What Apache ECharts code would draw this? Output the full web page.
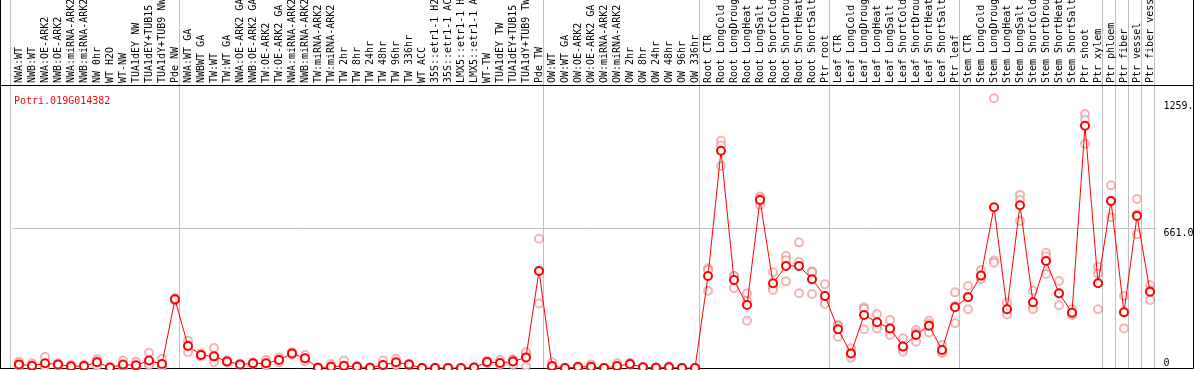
<!DOCTYPE html>
<html>
<head>
<meta charset="utf-8">
<script src="https://cdn.jsdelivr.net/npm/echarts@6/dist/echarts.min.js"></script>
<style>
html,body{margin:0;padding:0;background:#fff;}
#c{width:1194px;height:370px;}
</style>
</head>
<body>
<div id="c"></div>
<script>
const TITLE = 'Potri.019G014382';
const CATEGORIES = [
  'NWA:WT','NWB:WT','NWA:OE-ARK2','NWB:OE-ARK2','NWA:miRNA-ARK2','NWB:miRNA-ARK2','NW 0hr','WT H2O','WT-NW','TUA1dEY NW','TUA1dEY+TUB15 NW','TUA1dY+TUB9 NW','Pde NW',
  'NWA:WT GA','NWBWT GA','TW:WT','TW:WT GA','NWA:OE-ARK2 GA','NWB:OE-ARK2 GA','TW:OE-ARK2','TW:OE-ARK2 GA','NWA:miRNA-ARK2','NWB:miRNA-ARK2','TW:miRNA-ARK2','TW:miRNA-ARK2',
  'TW 2hr','TW 8hr','TW 24hr','TW 48hr','TW 96hr','TW 336hr','WT ACC','35S::etr1-1 H2O','35S::etr1-1 ACC','LMX5::etr1-1 H2O','LMX5::etr1-1 ACC','WT-TW','TUA1dEY TW','TUA1dEY+TUB15 TW','TUA1dY+TUB9 TW','Pde TW',
  'OW:WT','OW:WT GA','OW:OE-ARK2','OW:OE-ARK2 GA','OW:miRNA-ARK2','OW:miRNA-ARK2','OW 2hr','OW 8hr','OW 24hr','OW 48hr','OW 96hr','OW 336hr',
  'Root CTR','Root LongCold','Root LongDrought','Root LongHeat','Root LongSalt','Root ShortCold','Root ShortDrought','Root ShortHeat','Root ShortSalt','Ptr root',
  'Leaf CTR','Leaf LongCold','Leaf LongDrought','Leaf LongHeat','Leaf LongSalt','Leaf ShortCold','Leaf ShortDrought','Leaf ShortHeat','Leaf ShortSalt','Ptr leaf',
  'Stem CTR','Stem LongCold','Stem LongDrought','Stem LongHeat','Stem LongSalt','Stem ShortCold','Stem ShortDrought','Stem ShortHeat','Stem ShortSalt','Ptr shoot','Ptr xylem',
  'Ptr phloem','Ptr fiber','Ptr vessel','Ptr fiber vessel'
];
// group boundaries (index of first category in each group, plus the single Ptr tissues)
const GROUP_STARTS = [0, 13, 41, 53, 63, 73, 84, 85, 86, 87];

const MEAN = [
  17,11,22,17,8,9,27,2,16,13,35,19,324,
  104,61,55,31,17,22,22,38,69,46,1,6,11,6,1,14,27,16,0,0,0,0,2,28,24,31,50,458,
  9,0,5,6,0,9,19,3,1,3,0,0,
  434,1025,415,297,793,400,482,482,419,340,
  183,69,250,216,187,101,156,200,85,287,
  334,436,759,277,768,310,505,353,261,1143,400,
  788,263,718,360
];
const REP1 = [
  30,23,52,22,14,15,41,3,35,30,72,42,330,
  129,68,94,36,20,26,38,50,74,61,2,19,35,10,2,35,44,20,0,0,1,0,4,34,38,40,69,610,
  27,0,8,17,0,22,25,5,2,8,0,0,
  471,1072,434,353,809,452,529,593,455,395,
  203,93,287,255,227,140,179,223,109,357,
  387,463,1273,308,817,365,544,411,277,1199,478,
  862,340,798,392
];
const REP2 = [
  15,6,10,17,6,8,32,2,8,6,20,10,324,
  107,60,43,30,17,22,18,38,69,45,1,0,0,5,1,5,24,16,0,0,0,0,1,27,20,38,75,459,
  0,0,5,1,0,3,18,3,1,1,0,0,
  462,1050,434,315,800,380,509,500,453,323,
  198,65,280,206,178,86,165,209,74,293,
  338,426,507,270,793,288,527,352,256,1172,445,
  791,262,725,367
];
const REP3 = [
  6,5,4,12,4,4,8,1,5,3,13,5,318,
  76,55,28,27,14,18,10,26,64,32,0,0,0,3,0,2,13,12,0,0,0,0,0,23,14,14,6,305,
  0,0,2,0,0,2,14,1,0,0,0,0,
  365,954,376,223,770,368,409,353,349,302,
  148,49,183,187,156,77,124,168,72,211,
  277,419,497,253,694,277,444,296,250,1058,277,
  711,187,631,321
];
const Y_MAX = 1331;
const GRID_VALUE = 661;
const TICK_VALUES_UPPER = [661, 1259];
const TICK_TEXT = {0: '0', 661: '661.0', 1259: '1259.'};

const FONT = 'DejaVu Sans Mono';
const reps = [];
[REP1, REP2, REP3].forEach(arr => arr.forEach((v, i) => reps.push([i, v])));

const chart = echarts.init(document.getElementById('c'), null, {renderer: 'canvas'});
const hidden = {show: false};
chart.setOption({
  animation: false,
  title: {
    text: TITLE, left: 9, top: 91,
    textStyle: {color: '#ff0000', fontSize: 10, fontWeight: 'normal', fontFamily: FONT}
  },
  grid: [
    {left: 0.5, right: 1, top: 0, bottom: 2, outerBoundsMode: 'none', containLabel: false},          // frame
    {left: 0.5, right: 1, top: 85.5, bottom: 2, outerBoundsMode: 'none', containLabel: false},       // header separator
    {left: 10, right: 40, top: 0, bottom: 2, outerBoundsMode: 'none', containLabel: false},          // group lines
    {left: 12.5, right: 37.5, top: 86, bottom: 2, outerBoundsMode: 'none', containLabel: false}      // data
  ],
  xAxis: [
    {gridIndex: 0, type: 'value', position: 'bottom', axisLine: {show: true, onZero: false, lineStyle: {color: '#000', width: 1}}, axisTick: hidden, axisLabel: hidden, splitLine: hidden},
    {gridIndex: 1, type: 'value', position: 'top', axisLine: {show: true, onZero: false, lineStyle: {color: '#000', width: 1}}, axisTick: hidden, axisLabel: hidden, splitLine: hidden},
    {gridIndex: 2, type: 'category', data: CATEGORIES, axisLine: hidden, axisTick: hidden, axisLabel: hidden,
      splitLine: {show: true, interval: (idx) => GROUP_STARTS.indexOf(idx) >= 0, lineStyle: {color: '#c0c0c0', width: 1}}},
    {gridIndex: 3, type: 'category', data: CATEGORIES, position: 'top', boundaryGap: true,
      axisLine: hidden, axisTick: hidden, splitLine: hidden,
      axisLabel: {interval: 0, rotate: 90, margin: 3, color: '#000', fontSize: 10, fontFamily: FONT, hideOverlap: false}}
  ],
  yAxis: [
    {gridIndex: 0, type: 'value', position: 'left', axisLine: {show: true, onZero: false, lineStyle: {color: '#000'}}, axisTick: hidden, axisLabel: hidden, splitLine: hidden},
    {gridIndex: 0, type: 'value', position: 'right', axisLine: {show: true, onZero: false, lineStyle: {color: '#000'}}, axisTick: hidden, axisLabel: hidden, splitLine: hidden},
    {gridIndex: 1, type: 'value', show: false},
    {gridIndex: 2, type: 'value', show: false},
    {gridIndex: 3, type: 'value', min: 0, max: Y_MAX, position: 'right',
      axisLine: hidden, axisTick: hidden, splitLine: hidden,
      axisLabel: {customValues: TICK_VALUES_UPPER, verticalAlign: 'top', margin: 7, color: '#000', fontSize: 10, fontFamily: FONT,
        formatter: v => TICK_TEXT[v]}},
    {gridIndex: 3, type: 'value', min: 0, max: Y_MAX, position: 'right',
      axisLine: hidden, axisTick: hidden, splitLine: hidden,
      axisLabel: {customValues: [0], verticalAlign: 'bottom', margin: 7, color: '#000', fontSize: 10, fontFamily: FONT,
        formatter: v => TICK_TEXT[v]}}
  ],
  series: [
    {type: 'scatter', xAxisIndex: 3, yAxisIndex: 4, data: reps, symbol: 'emptyCircle', symbolSize: 8,
      itemStyle: {color: 'rgba(236,110,110,0.65)', borderWidth: 1.5}, z: 3, silent: true},
    {type: 'line', xAxisIndex: 3, yAxisIndex: 4, data: MEAN, symbol: 'emptyCircle', symbolSize: 8, showAllSymbol: true,
      lineStyle: {color: '#ff0000', width: 1}, itemStyle: {color: '#ff0000', borderWidth: 1.6}, z: 4, silent: true,
      markLine: {silent: true, symbol: 'none', label: {show: false}, lineStyle: {color: '#c0c0c0', width: 1, type: 'solid'},
        data: [{yAxis: GRID_VALUE}], z: 1}}
  ]
});
</script>
</body>
</html>
